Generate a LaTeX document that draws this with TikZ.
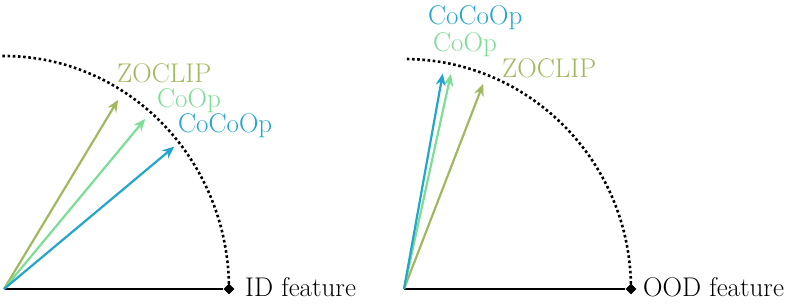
\documentclass[tikz,border=0pt]{standalone}
\usepackage{tikz}
\usetikzlibrary{arrows.meta, shapes.geometric, positioning}

\definecolor{zoclip}{RGB}{160,185,95}
\definecolor{coop}{RGB}{125,220,150}
\definecolor{cocoop}{RGB}{35,165,205}

\begin{document}
\begin{tikzpicture}[
    x=1pt, y=1pt,
    >={Stealth[length=12pt,width=10pt]},
    feat/.style={line width=1.8pt},
    tip/.style={diamond, fill=black, inner sep=0pt, minimum size=11pt},
    circ/.style={line width=2.6pt, dash pattern=on 2.6pt off 2.6pt},
    vec/.style={->, line width=2.2pt},
    lbl/.style={anchor=base west, inner sep=0pt, font=\fontsize{27}{31}\selectfont}
]
\useasboundingbox (-4,-18) rectangle (794,289);

% ID side
\coordinate (O1) at (0,0);
\node[tip] (d1) at (225,0) {};
\draw[circ] (225,0) arc[start angle=0, end angle=92, x radius=225, y radius=233];
\draw[feat] (O1) -- (d1);
\node[lbl] (id) at (241,-8) {ID feature};

\coordinate (zo1) at (58.9:221);
\coordinate (co1) at (50.3:221);
\coordinate (cc1) at (39.9:222);
\draw[vec, zoclip] (O1) -- (zo1);
\draw[vec, coop] (O1) -- (co1);
\draw[vec, cocoop] (O1) -- (cc1);
\node[lbl, zoclip] (zol1) at (113,206) {ZOCLIP};
\node[lbl, coop] (col1) at (153,181) {CoOp};
\node[lbl, cocoop] (ccl1) at (174,156) {CoCoOp};

% OOD side
\coordinate (O2) at (400,0);
\node[tip] (d2) at (627,0) {};
\draw[circ] (627,0) arc[start angle=0, end angle=90, x radius=227, y radius=230];
\draw[feat] (O2) -- (d2);
\node[lbl] (ood) at (639,-8) {OOD feature};

\coordinate (zo2) at ([shift={(O2)}]68.9:220);
\coordinate (co2) at ([shift={(O2)}]77.7:220);
\coordinate (cc2) at ([shift={(O2)}]79.8:219);
\draw[vec, zoclip] (O2) -- (zo2);
\draw[vec, coop] (O2) -- (co2);
\draw[vec, cocoop] (O2) -- (cc2);
\node[lbl, cocoop] (ccl2) at (424,264) {CoCoOp};
\node[lbl, coop] (col2) at (429,237) {CoOp};
\node[lbl, zoclip] (zol2) at (498,211) {ZOCLIP};

\end{tikzpicture}
\end{document}
